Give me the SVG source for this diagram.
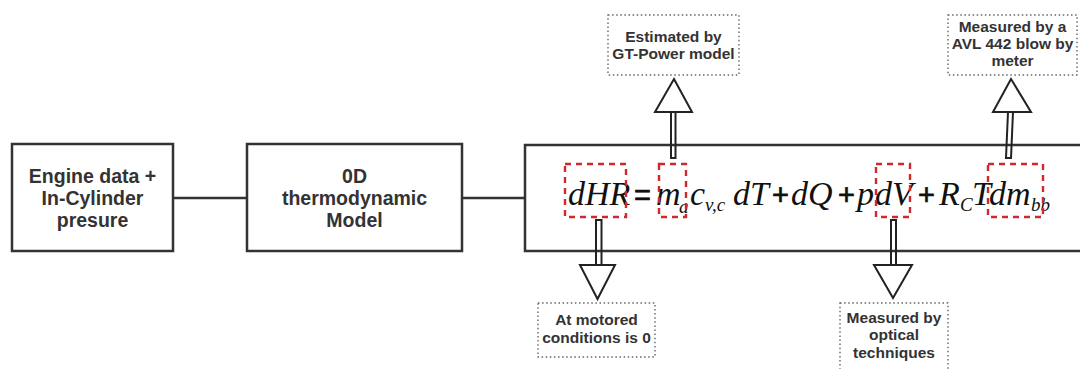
<svg xmlns="http://www.w3.org/2000/svg" width="1080" height="369" viewBox="0 0 1080 369">
<style>
.box{fill:#fff;stroke:#333;stroke-width:2.5}
.note{fill:none;stroke:#666;stroke-width:1.4;stroke-dasharray:1.5 2.6}
.hl{fill:none;stroke:#d0292b;stroke-width:2.4;stroke-dasharray:6 5}
.lbl{font-family:"Liberation Sans",Arial,sans-serif;font-weight:bold;font-size:19.5px;fill:#333;text-anchor:middle}
.nt{font-family:"Liberation Sans",Arial,sans-serif;font-weight:bold;font-size:15.5px;fill:#333;text-anchor:middle}
.eq{font-family:"Liberation Serif","Times New Roman",serif;font-style:italic;font-size:34px;fill:#111}
.op{font-family:"Liberation Sans",Arial,sans-serif;font-style:normal;font-weight:normal;font-size:29px;stroke:#111;stroke-width:0.7}
.sub{font-size:19px}
.conn{fill:none;stroke:#333;stroke-width:2.5}
.arr{fill:none;stroke:#222;stroke-width:2}
.head{fill:#fff;stroke:#222;stroke-width:2;stroke-linejoin:miter}
</style>
<rect width="1080" height="369" fill="#fff"/>
<g id="connectors">
<line class="conn" x1="173" y1="198" x2="247" y2="198"/>
<line class="conn" x1="462" y1="198" x2="525" y2="198"/>
</g>
<g id="engine-data">
<rect class="box" x="12" y="144" width="161" height="107"/>
<text class="lbl" x="92.5" y="183">Engine data +</text>
<text class="lbl" x="92.5" y="205">In-Cylinder</text>
<text class="lbl" x="92.5" y="227">presure</text>
</g>
<g id="thermo-model">
<rect class="box" x="247" y="144" width="215" height="107"/>
<text class="lbl" x="354.5" y="183">0D</text>
<text class="lbl" x="354.5" y="205">thermodynamic</text>
<text class="lbl" x="354.5" y="227">Model</text>
</g>
<g id="equation">
<rect class="box" x="525" y="145" width="600" height="106"/>
<text class="eq" y="205"><tspan x="568">dHR</tspan><tspan class="op" x="634">=</tspan><tspan x="656">m</tspan><tspan class="sub" x="679" y="213">a</tspan><tspan x="690" y="205">c</tspan><tspan class="sub" x="705" y="211">v,c</tspan><tspan x="733" y="205">dT</tspan><tspan class="op" x="772">+</tspan><tspan x="791">dQ</tspan><tspan class="op" x="838">+</tspan><tspan x="857">p</tspan><tspan x="875">dV</tspan><tspan class="op" x="918">+</tspan><tspan x="939">R</tspan><tspan class="sub" x="960" y="211">C</tspan><tspan x="972" y="205">T</tspan><tspan x="989">dm</tspan><tspan class="sub" x="1031" y="211" font-size="17">bb</tspan></text>
<rect class="hl" x="565" y="164" width="61" height="53"/>
<rect class="hl" x="659" y="164" width="27" height="53"/>
<rect class="hl" x="876" y="164" width="34" height="53"/>
<rect class="hl" x="988" y="164" width="55" height="53"/>
</g>
<g id="arrows">
<rect class="arr" x="671" y="112" width="4.5" height="46"/>
<polygon class="head" points="674,79 692,112 655,112"/>
<polygon class="arr" points="1008,112 1013,112 1011,158 1006,158"/>
<polygon class="head" points="1011,79 1031,112 993,112"/>
<rect class="arr" x="596" y="220" width="5.5" height="45"/>
<polygon class="head" points="580,265 615,265 597.5,299"/>
<rect class="arr" x="891" y="220" width="5" height="45"/>
<polygon class="head" points="874,265 912,265 893,298"/>
</g>
<g id="note-gtpower">
<rect class="note" x="608" y="15" width="131" height="60"/>
<text class="nt" x="673.5" y="42">Estimated by</text>
<text class="nt" x="673.5" y="59">GT-Power model</text>
</g>
<g id="note-avl">
<rect class="note" x="948" y="15" width="129" height="60"/>
<text class="nt" x="1012.5" y="32">Measured by a</text>
<text class="nt" x="1012.5" y="49">AVL 442 blow by</text>
<text class="nt" x="1012.5" y="66">meter</text>
</g>
<g id="note-motored">
<rect class="note" x="538" y="303" width="117" height="54"/>
<text class="nt" x="596.5" y="325">At motored</text>
<text class="nt" x="596.5" y="343">conditions is 0</text>
</g>
<g id="note-optical">
<rect class="note" x="840" y="303" width="108" height="75"/>
<text class="nt" x="894" y="323">Measured by</text>
<text class="nt" x="894" y="340">optical</text>
<text class="nt" x="894" y="358">techniques</text>
</g>
</svg>
